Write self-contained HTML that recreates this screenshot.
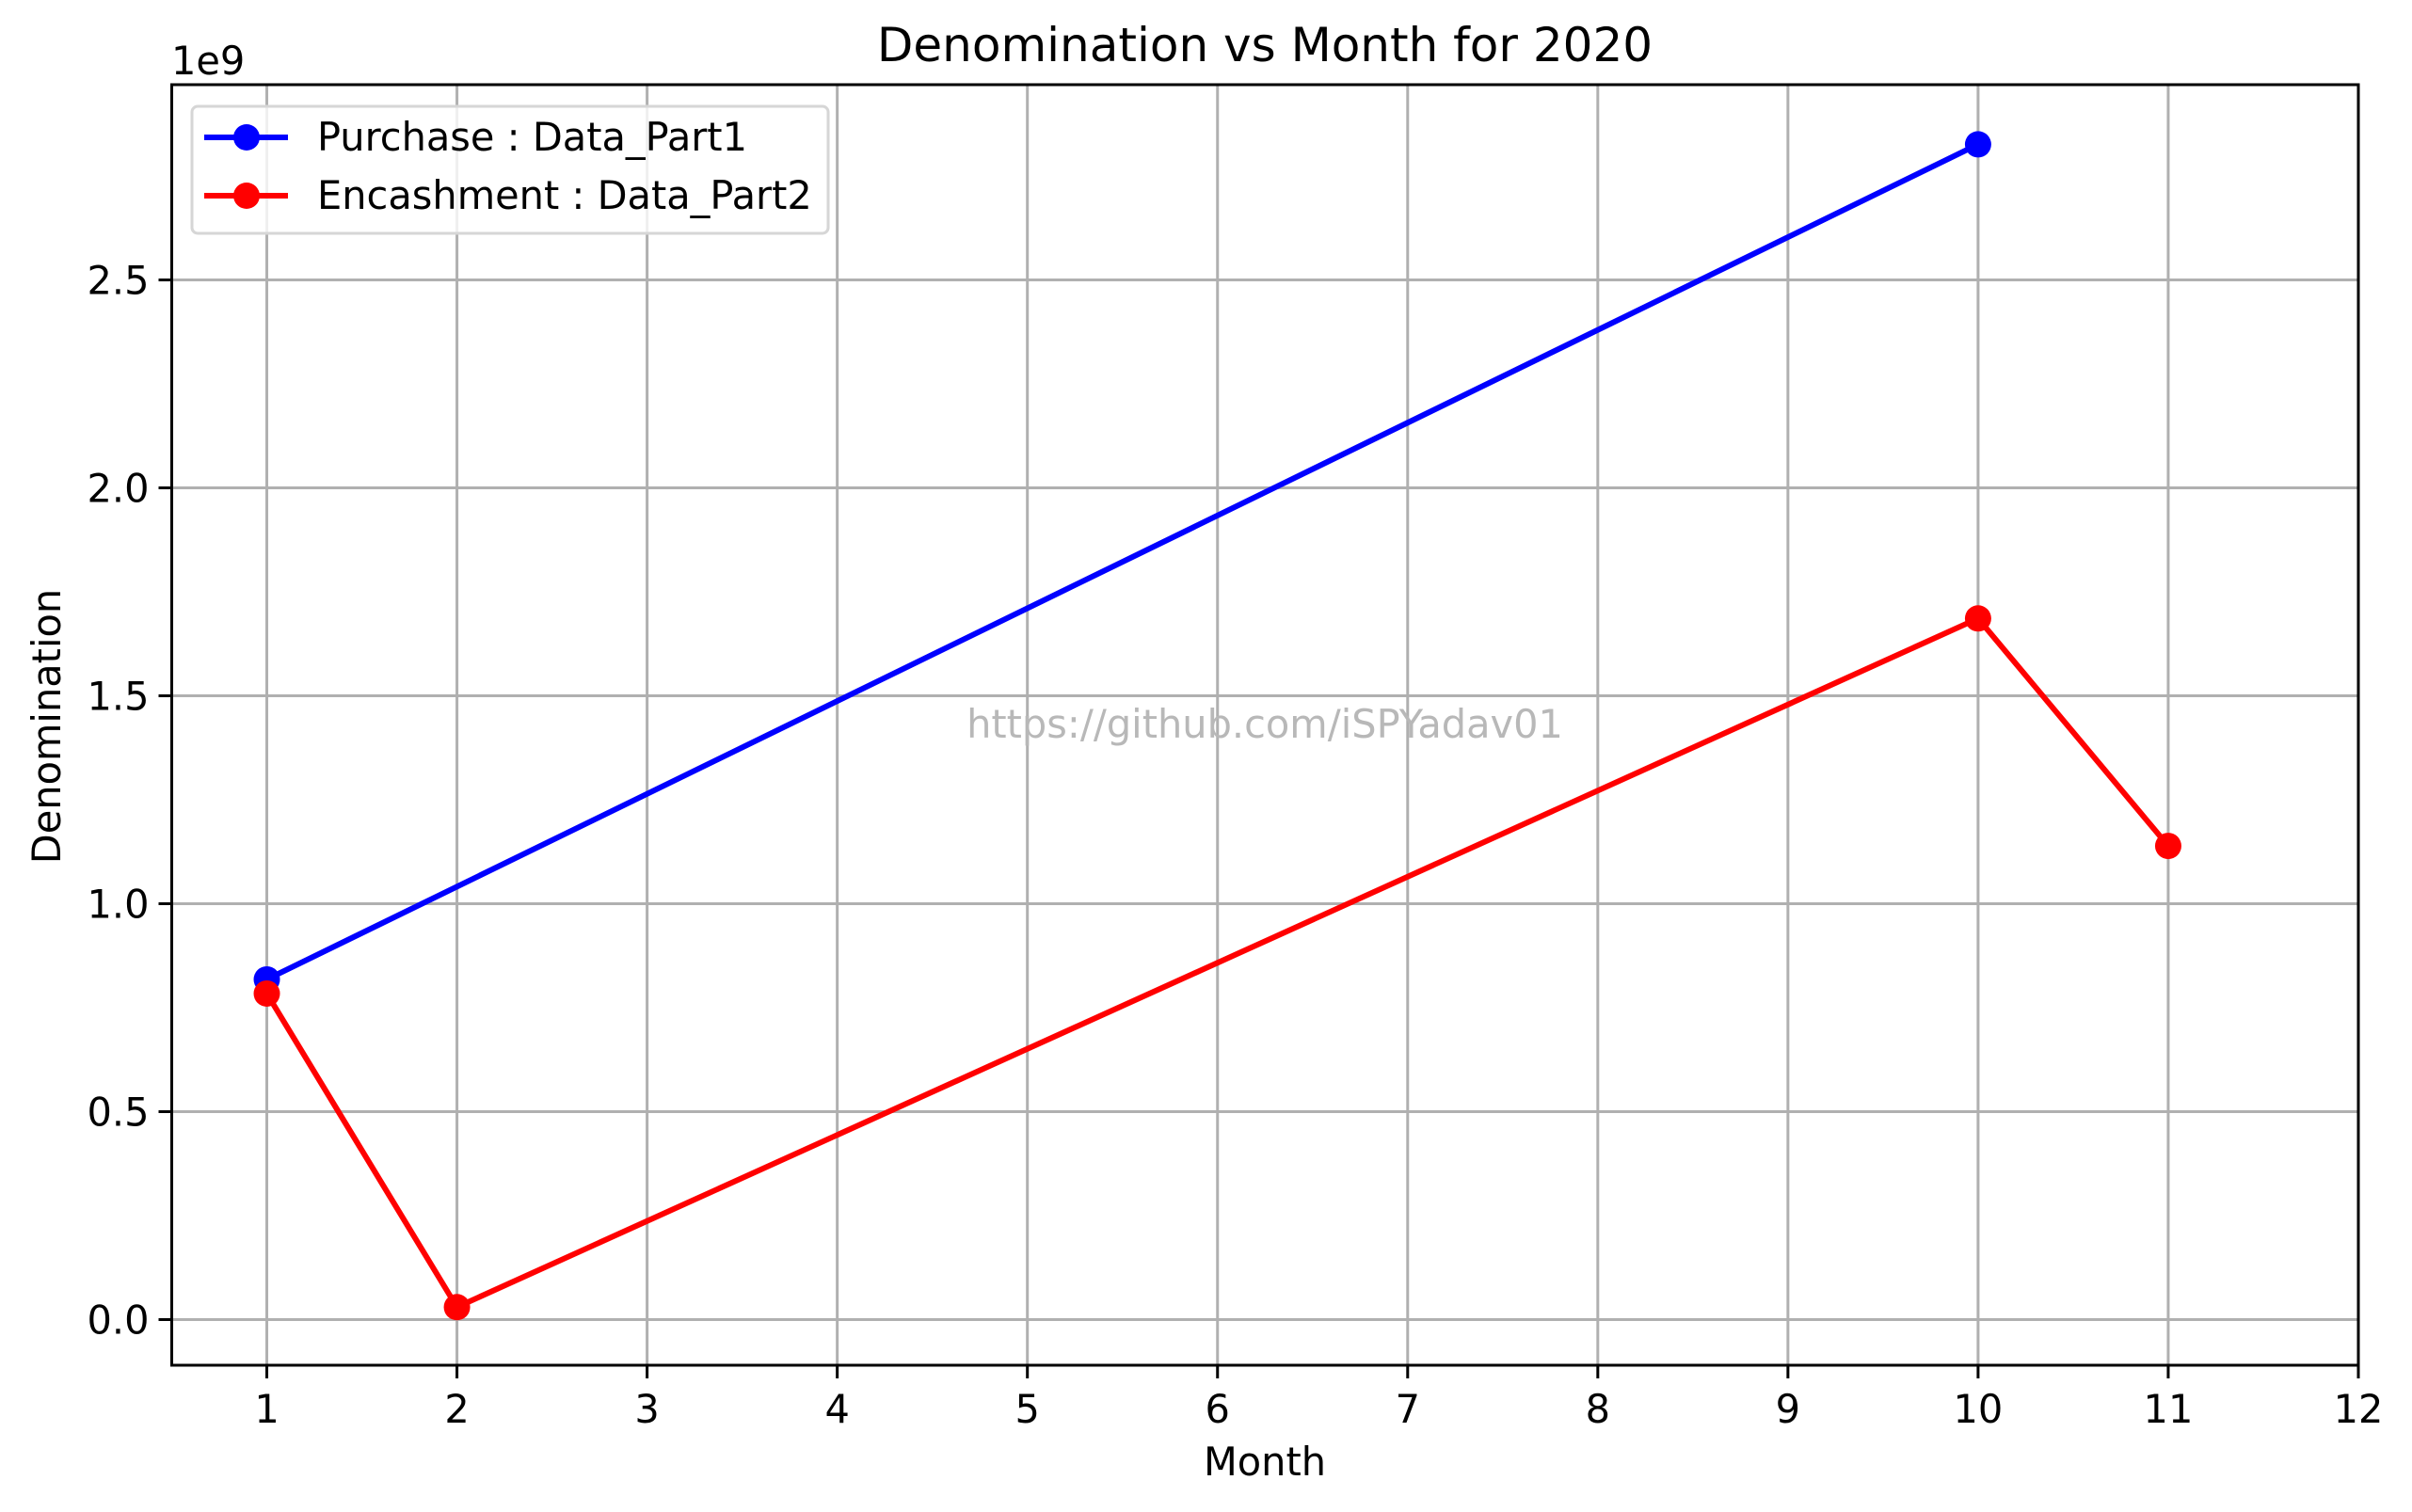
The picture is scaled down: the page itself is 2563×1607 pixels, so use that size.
<!DOCTYPE html>
<html><head><meta charset="utf-8"><style>
html,body{margin:0;padding:0;background:#fff;}
svg{display:block;font-family:"DejaVu Sans","Liberation Sans",sans-serif;}
</style></head><body>
<svg id="chart" width="2563" height="1607" viewBox="0 0 2563 1607" xmlns="http://www.w3.org/2000/svg">
<rect x="0" y="0" width="2563" height="1607" fill="#fff"/>
<g id="grid"></g>
<g id="ticks"></g>
<text x="1344" y="784" text-anchor="middle" font-size="41.5" fill="#b8b8b8">https://github.com/iSPYadav01</text>
<g id="series"></g>
<rect x="182.5" y="90" width="2323.5" height="1361" fill="none" stroke="#000" stroke-width="3"/>
<text x="1344" y="65" text-anchor="middle" font-size="50">Denomination vs Month for 2020</text>
<text x="1344" y="1568" text-anchor="middle" font-size="41.5">Month</text>
<text x="0" y="0" transform="translate(64,772) rotate(-90)" text-anchor="middle" font-size="41.5">Denomination</text>
<text x="182" y="79" font-size="41.5">1e9</text>
<g>
<rect x="204" y="113" width="676" height="135" rx="6" fill="#fff" fill-opacity="0.8" stroke="#d6d6d6" stroke-width="3"/>
<g>
<line x1="217" y1="146" x2="306" y2="146" stroke="#0000ff" stroke-width="6"/>
<circle cx="262" cy="146" r="14" fill="#0000ff"/>
<text x="337" y="160" font-size="41.5">Purchase : Data_Part1</text>
</g>
<g>
<line x1="217" y1="208" x2="306" y2="208" stroke="#ff0000" stroke-width="6"/>
<circle cx="262" cy="208" r="14" fill="#ff0000"/>
<text x="337" y="222" font-size="41.5">Encashment : Data_Part2</text>
</g>
</g>
</svg>
<script>
const xTicks = [1,2,3,4,5,6,7,8,9,10,11,12];
const yTicks = [0,0.5,1.0,1.5,2.0,2.5];
const yTickLabels = ["0.0","0.5","1.0","1.5","2.0","2.5"];
const purchaseMonths = [1,10];
const purchaseValues = [0.818,2.826];
const encashMonths = [1,2,10,11];
const encashValues = [0.784,0.03,1.686,1.139];

const NS = "http://www.w3.org/2000/svg";
const L = 182.5, R = 2506, T = 90, B = 1451;
const xMin = 0.5, xMax = 12, yMin = -0.1097, yMax = 2.9695;
function sx(v){ return L + (v - xMin) / (xMax - xMin) * (R - L); }
function sy(v){ return B - (v - yMin) / (yMax - yMin) * (B - T); }
function mk(tag, attrs, parent){ const e = document.createElementNS(NS, tag); for (const k in attrs) e.setAttribute(k, attrs[k]); parent.appendChild(e); return e; }

const grid = document.getElementById('grid');
const ticks = document.getElementById('ticks');
xTicks.forEach(function(t){
  const x = sx(t);
  const g = mk('line', {x1:x, y1:T, x2:x, y2:B, stroke:'#b0b0b0', 'stroke-width':3}, grid);
  
  
  const tk = mk('line', {x1:x, y1:B, x2:x, y2:B+14, stroke:'#000', 'stroke-width':3}, ticks);
  
  
  const lb = mk('text', {x:x, y:B+61, 'text-anchor':'middle', 'font-size':41.5}, ticks);
  lb.textContent = String(t);
  
  
});
yTicks.forEach(function(t, i){
  const y = sy(t);
  const g = mk('line', {x1:L, y1:y, x2:R, y2:y, stroke:'#b0b0b0', 'stroke-width':3}, grid);
  
  
  const tk = mk('line', {x1:L-14, y1:y, x2:L, y2:y, stroke:'#000', 'stroke-width':3}, ticks);
  
  
  const lb = mk('text', {x:L-24, y:y+15, 'text-anchor':'end', 'font-size':41.5}, ticks);
  lb.textContent = yTickLabels[i];
  
  
});

const series = document.getElementById('series');
function drawSeries(xs, ys, color, name){
  const g = mk('g', {}, series);
  
  
  const pts = xs.map(function(x, i){ return sx(x) + ',' + sy(ys[i]); }).join(' ');
  const pl = mk('polyline', {points:pts, fill:'none', stroke:color, 'stroke-width':6, 'stroke-linejoin':'round'}, g);
  
  
  xs.forEach(function(x, i){
    const c = mk('circle', {cx:sx(x), cy:sy(ys[i]), r:14, fill:color}, g);
    
    
  });
}
drawSeries(purchaseMonths, purchaseValues, '#0000ff', 'purchase-series');
drawSeries(encashMonths, encashValues, '#ff0000', 'encashment-series');
</script>
</body></html>
